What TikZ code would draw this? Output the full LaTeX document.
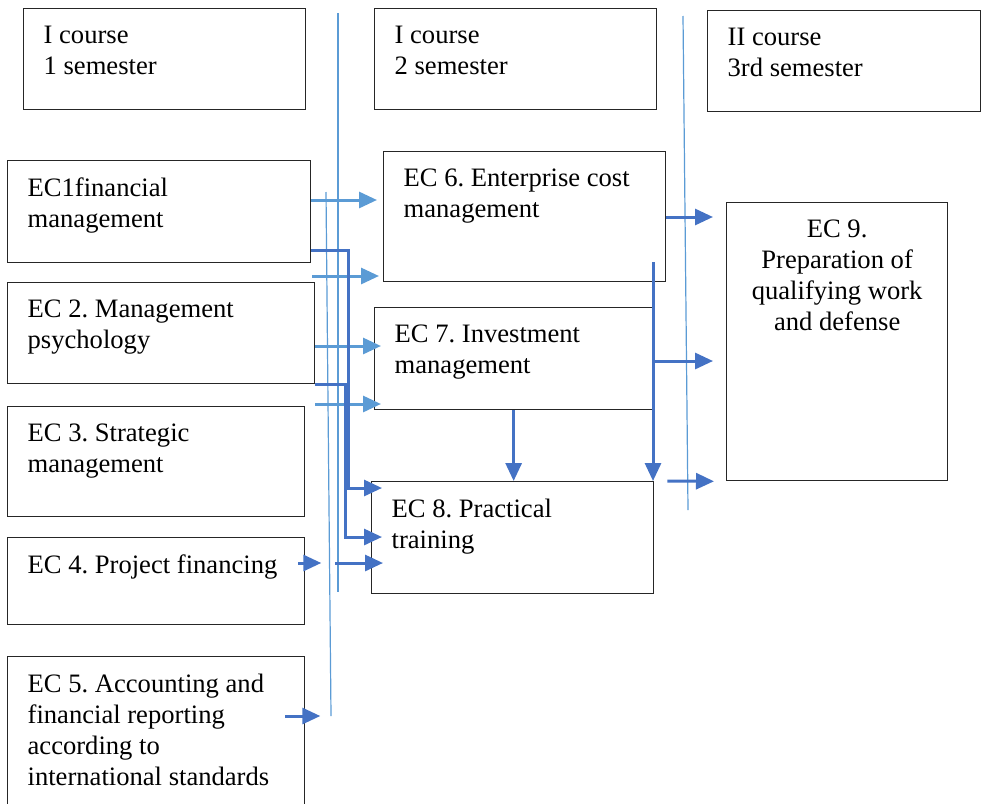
\documentclass[tikz,border=0pt]{standalone}
\usepackage{fontspec}
\setmainfont{Liberation Serif}
\usetikzlibrary{positioning,arrows.meta,calc}
\definecolor{lblue}{HTML}{5B9BD5}
\definecolor{dblue}{HTML}{4472C4}
\tikzstyle{block}=[draw=black!85, line width=1.3pt, anchor=north west,
    inner xsep=20pt, inner ysep=17pt, font=\fontsize{26.6}{31}\selectfont\frenchspacing]
\tikzstyle{sep}=[draw=lblue, line width=1.2pt]
\tikzstyle{signal}=[-{Triangle[length=18pt,width=16pt]}, line width=3pt]
\tikzstyle{lsignal}=[style=signal, draw=lblue]
\tikzstyle{dsignal}=[style=signal, draw=dblue]
\newcommand{\boxtext}[3]{\begin{minipage}[t][\dimexpr #2pt-34pt\relax][t]{\dimexpr #1pt-40pt\relax}\raggedright #3\end{minipage}}

\begin{document}
\begin{tikzpicture}[x=1pt, y=-1pt]
\useasboundingbox (0,0) rectangle (981,803);
% semester separators
\draw[sep] (338,13) -- (338,592);
\draw[sep] (326,192) -- (331,716);
\draw[sep] (683,16) -- (688,510);
% headers
\node[block] (h1) at (23,8) {\boxtext{282}{101}{I course\\1 semester}};
\node[block] (h2) at (374,8) {\boxtext{282}{101}{I course\\2 semester}};
\node[block] (h3) at (707,10) {\boxtext{273}{101}{II course\\3rd semester}};
% 1 semester
\node[block] (ec1) at (7,160) {\boxtext{303}{102}{EC1financial\\management}};
\node[block] (ec2) at (7,282) {\boxtext{307}{101}{EC 2. Management\\psychology}};
\node[block] (ec3) at (7,406) {\boxtext{297}{110}{EC 3. Strategic\\management}};
\node[block] (ec4) at (7,537) {\boxtext{297}{87}{EC 4. Project financing}};
\node[block] (ec5) at (7,656) {\boxtext{297}{150}{EC 5. Accounting and\\financial reporting\\according to\\international standards}};
% 2 semester
\node[block] (ec6) at (383,151) {\boxtext{282}{130}{EC 6. Enterprise cost\\management}};
\node[block] (ec7) at (374,307) {\boxtext{278}{102}{EC 7. Investment\\management}};
\node[block] (ec8) at (371,481) {\boxtext{282}{112}{EC 8. Practical\\training}};
% 3 semester
\node[block] (ec9) at (726,202) {\boxtext{221}{278}{\centering EC 9.\\Preparation of\\qualifying work\\and defense}};
% links to 2 semester
\coordinate (f1) at (312,276);
\coordinate (f2) at (315,404);
\draw[lsignal] (ec1.east |- 0,200) -- ($(ec6.west |- 0,200)+(-6,0)$);
\draw[lsignal] (f1) -- ($(ec6.west |- f1)+(-4,0)$);
\draw[lsignal] (ec2.east |- 0,346) -- ($(ec7.west |- 0,346)+(7,0)$);
\draw[lsignal] (f2) -- ($(ec7.west |- f2)+(7,0)$);
\draw[dsignal] (ec1.east |- 0,250) -| (348,488) -- ($(ec8.west |- 0,488)+(11,0)$);
\draw[dsignal] (ec2.south east) -| (345,537) -- ($(ec8.west |- 0,537)+(11,0)$);
\draw[dsignal] ($(ec4.east |- 0,563)+(-7,0)$) -- ($(ec4.east |- 0,563)+(16,0)$);
\draw[dsignal] (335,563) -- ($(ec8.west |- 0,563)+(12,0)$);
\draw[dsignal] ($(ec5.east |- 0,716)+(-20,0)$) -- ($(ec5.east |- 0,716)+(15,0)$);
\draw[dsignal] (ec7.south) -- (ec7.south |- ec8.north);
% links to 3 semester
\coordinate (v) at (653,262);
\draw[dsignal] (ec6.east |- 0,217) -- ($(ec9.west |- 0,217)+(-13,0)$);
\draw[dsignal] (v) -- (v |- ec8.north);
\draw[dsignal] (v |- 0,361) -- ($(ec9.west |- 0,361)+(-13,0)$);
\draw[dsignal] ($(ec8.north east)+(13,0)$) -- ($(ec9.south west)+(-12,0)$);
\end{tikzpicture}
\end{document}
